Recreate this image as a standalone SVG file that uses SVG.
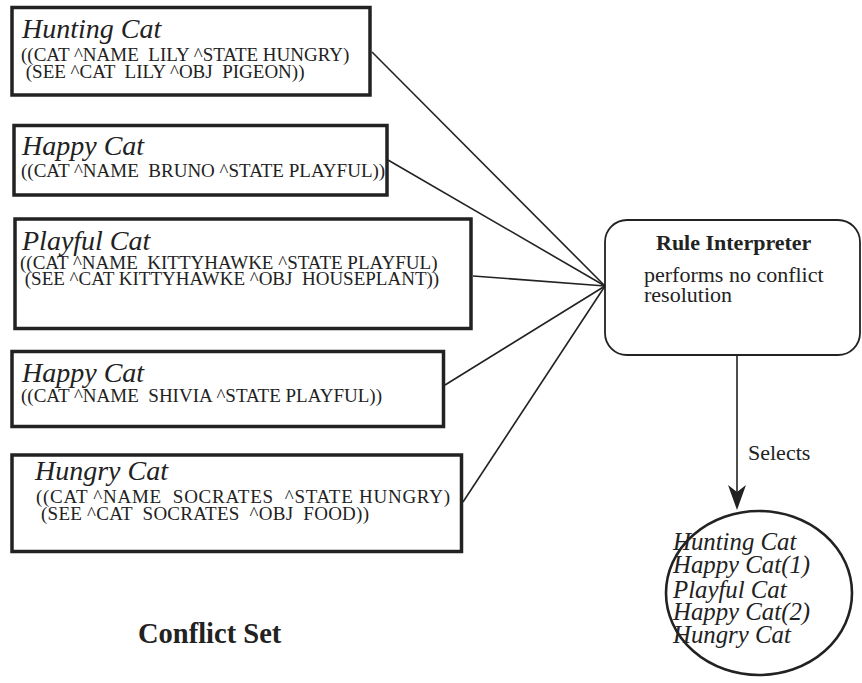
<svg xmlns="http://www.w3.org/2000/svg" width="862" height="683" viewBox="0 0 862 683">
  <style>
    text { font-family: 'Liberation Serif', 'Times New Roman', Tinos, 'DejaVu Serif', serif; fill: #222; white-space: pre; }
    .box { fill: #fff; stroke: #222; stroke-width: 3.5; }
    .title { font-style: italic; font-size: 28px; }
    .code { font-size: 19px; }
    .link { stroke: #222; stroke-width: 1.6; fill: none; }
    .rule { fill: #fff; stroke: #222; stroke-width: 1.8; }
    .bold { font-weight: bold; }
    .plain { font-size: 22px; }
    .pick { font-style: italic; font-size: 24.8px; }
  </style>

  <!-- rule boxes: the conflict set -->
  <g id="hunting-cat">
    <rect class="box" x="12" y="7.5" width="358" height="87.5"/>
    <text class="title" x="22" y="38">Hunting Cat</text>
    <text class="code" x="21" y="61" xml:space="preserve">((CAT ^NAME  LILY ^STATE HUNGRY)</text>
    <text class="code" x="21" y="78" xml:space="preserve"> (SEE ^CAT  LILY ^OBJ  PIGEON))</text>
  </g>

  <g id="happy-cat-1">
    <rect class="box" x="14" y="125.5" width="373" height="69.5"/>
    <text class="title" x="22" y="155">Happy Cat</text>
    <text class="code" x="21" y="177" xml:space="preserve">((CAT ^NAME  BRUNO ^STATE PLAYFUL))</text>
  </g>

  <g id="playful-cat">
    <rect class="box" x="15" y="219" width="456" height="109.5"/>
    <text class="title" x="22" y="250">Playful Cat</text>
    <text class="code" x="20" y="269" xml:space="preserve">((CAT ^NAME  KITTYHAWKE ^STATE PLAYFUL)</text>
    <text class="code" x="20" y="285" xml:space="preserve"> (SEE ^CAT KITTYHAWKE ^OBJ  HOUSEPLANT))</text>
  </g>

  <g id="happy-cat-2">
    <rect class="box" x="12" y="351.5" width="431.5" height="75"/>
    <text class="title" x="22" y="382">Happy Cat</text>
    <text class="code" x="21" y="402" xml:space="preserve">((CAT ^NAME  SHIVIA ^STATE PLAYFUL))</text>
  </g>

  <g id="hungry-cat">
    <rect class="box" x="12" y="455" width="449.5" height="96.5"/>
    <text class="title" x="35" y="480">Hungry Cat</text>
    <text class="code" x="36" y="503" textLength="414" lengthAdjust="spacing" xml:space="preserve">((CAT ^NAME  SOCRATES  ^STATE HUNGRY)</text>
    <text class="code" x="36" y="520" textLength="333" lengthAdjust="spacing" xml:space="preserve"> (SEE ^CAT  SOCRATES  ^OBJ  FOOD))</text>
  </g>

  <text class="bold" x="138" y="643" font-size="28.5">Conflict Set</text>

  <!-- interpreter -->
  <g id="rule-interpreter">
    <rect class="rule" x="605" y="220" width="255" height="135" rx="22" ry="22"/>
    <text class="bold" x="656" y="250" font-size="22">Rule Interpreter</text>
    <text class="plain" x="644" y="282">performs no conflict</text>
    <text class="plain" x="644" y="302">resolution</text>
  </g>

  <!-- selected rules -->
  <g id="selected">
    <ellipse cx="759" cy="593" rx="93" ry="82" fill="#fff" stroke="#222" stroke-width="2.6"/>
    <text class="pick" x="673" y="550">Hunting Cat</text>
    <text class="pick" x="673" y="573">Happy Cat(1)</text>
    <text class="pick" x="673" y="598">Playful Cat</text>
    <text class="pick" x="673" y="620">Happy Cat(2)</text>
    <text class="pick" x="673" y="643">Hungry Cat</text>
  </g>

  <!-- connectors -->
  <g id="connectors">
    <line class="link" x1="372" y1="52" x2="605" y2="286"/>
    <line class="link" x1="388" y1="160" x2="605" y2="286"/>
    <line class="link" x1="473" y1="276" x2="605" y2="286"/>
    <line class="link" x1="445" y1="385" x2="605" y2="286"/>
    <line class="link" x1="463" y1="502" x2="605" y2="286"/>
    <line class="link" x1="737" y1="355" x2="737" y2="495"/>
    <path d="M737,510 L728,485 L737,492 L746,485 Z" fill="#222"/>
    <text class="plain" x="748" y="460">Selects</text>
  </g>
</svg>
